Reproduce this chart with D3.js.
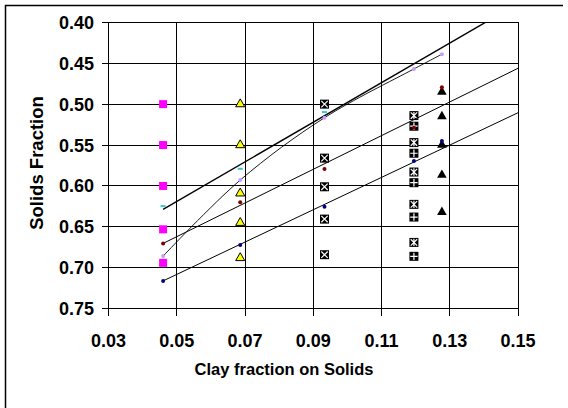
<!DOCTYPE html>
<html>
<head>
<meta charset="utf-8">
<script src="https://cdn.jsdelivr.net/npm/d3@7"></script>
<style>
  body { margin: 0; background: #fff; }
  text { font-family: "Liberation Sans", Arial, sans-serif; font-weight: bold; fill: #000; }
</style>
</head>
<body>
<svg width="568" height="408"></svg>
<script>
// axis ticks
var xTicks = [0.03, 0.05, 0.07, 0.09, 0.11, 0.13, 0.15];
var yTicks = [0.40, 0.45, 0.50, 0.55, 0.60, 0.65, 0.70, 0.75];

// big marker columns
var magentaX = 0.046, magentaY = [0.50, 0.55, 0.60, 0.653, 0.694];
var yellowX = 0.0686, yellowY = [0.50, 0.55, 0.609, 0.645, 0.688];
var crossX = 0.0933, crossY = [0.50, 0.566, 0.601, 0.6405, 0.684];
var starX = 0.1195, starY = [0.514, 0.547, 0.583, 0.6225, 0.669];
var plusX = 0.1195, plusY = [0.527, 0.560, 0.596, 0.638, 0.686];
var blackTriX = 0.1277, blackTriY = [0.485, 0.515, 0.55, 0.5867, 0.632];

// small dot series
var dotX = [0.046, 0.0686, 0.0933, 0.1195, 0.1277];
var cyanY = [0.6246, 0.579, 0.5097];
var lavenderY = [0.6857, 0.5928, 0.5166, 0.457, 0.439];
var redY = [0.6702, 0.620, 0.5794, 0.529, 0.4795];
var navyY = [0.716, 0.6722, 0.6254, 0.5696, 0.545];

// linear trend lines [x0, y0, x1, y1]
var trendCyan = [0.046, 0.6286, 0.15, 0.377];
var trendRed = [0.046, 0.6702, 0.15, 0.4562];
var trendNavy = [0.046, 0.716, 0.15, 0.5105];

var svg = d3.select("svg");
var x = d3.scaleLinear().domain([0.03, 0.15]).range([108.5, 518]);
var y = d3.scaleLinear().domain([0.40, 0.75]).range([22.3, 308.7]);

// chart frame (top + left visible)
svg.append("path")
    .attr("d", "M5.5,408 V5.5 H563")
    .attr("fill", "none")
    .attr("stroke", "#000")
    .attr("stroke-width", 1.5);

svg.append("defs").append("clipPath").attr("id", "plot")
    .append("rect")
    .attr("x", x(0.03)).attr("y", y(0.40))
    .attr("width", x(0.15) - x(0.03)).attr("height", y(0.75) - y(0.40));

// gridlines
var grid = svg.append("g").attr("shape-rendering", "crispEdges").attr("stroke", "#000");
grid.selectAll(".gy").data(yTicks).enter().append("line")
    .attr("x1", x(0.03) - 7).attr("x2", x(0.15))
    .attr("y1", function (d) { return y(d); })
    .attr("y2", function (d) { return y(d); });
grid.selectAll(".gx").data(xTicks).enter().append("line")
    .attr("y1", y(0.40)).attr("y2", y(0.75) + 7)
    .attr("x1", function (d) { return x(d); })
    .attr("x2", function (d) { return x(d); });

// tick labels
svg.selectAll(".yl").data(yTicks).enter().append("text")
    .attr("x", 94)
    .attr("y", function (d) { return y(d) + 6.5; })
    .attr("text-anchor", "end")
    .style("font-size", "18px")
    .text(function (d) { return d3.format(".2f")(d); });
svg.selectAll(".xl").data(xTicks).enter().append("text")
    .attr("x", function (d) { return x(d); })
    .attr("y", 347)
    .attr("text-anchor", "middle")
    .style("font-size", "18px")
    .text(function (d) { return d3.format(".2f")(d); });

// axis titles
svg.append("text")
    .attr("x", 284).attr("y", 375)
    .attr("text-anchor", "middle")
    .style("font-size", "16.5px")
    .text("Clay fraction on Solids");
svg.append("text")
    .attr("transform", "translate(43,163) rotate(-90)")
    .attr("text-anchor", "middle")
    .style("font-size", "18.5px")
    .text("Solids Fraction");

var marks = svg.append("g");

// magenta squares
marks.selectAll(".mag").data(magentaY).enter().append("rect")
    .attr("x", x(magentaX) - 4).attr("y", function (d) { return y(d) - 4; })
    .attr("width", 8).attr("height", 8)
    .attr("fill", "#ff00ff");

// yellow triangles
var tri = d3.symbol().type(d3.symbolTriangle).size(36);
marks.selectAll(".yel").data(yellowY).enter().append("path")
    .attr("d", tri)
    .attr("transform", function (d) { return "translate(" + x(yellowX) + "," + y(d) + ")"; })
    .attr("fill", "#ffff00").attr("stroke", "#000").attr("stroke-width", 1);

// black squares with white X / star / plus
function boxMarker(sel, cx, cy, kind) {
    var g = sel.append("g").attr("transform", "translate(" + cx + "," + cy + ")");
    g.append("rect").attr("x", -4.5).attr("y", -4.5).attr("width", 9).attr("height", 9).attr("fill", "#000");
    var s = 3.2;
    var d = "";
    if (kind === "x" || kind === "star") d += "M" + (-s) + "," + (-s) + "L" + s + "," + s + "M" + (-s) + "," + s + "L" + s + "," + (-s);
    if (kind === "plus" || kind === "star") d += "M0," + (-s - 0.5) + "V" + (s + 0.5);
    if (kind === "plus") d += "M" + (-s - 0.5) + ",0H" + (s + 0.5);
    g.append("path").attr("d", d).attr("stroke", "#fff").attr("stroke-width", 1.2).attr("fill", "none");
}
crossY.forEach(function (v) { boxMarker(marks, x(crossX), y(v), "x"); });
starY.forEach(function (v) { boxMarker(marks, x(starX), y(v), "star"); });
plusY.forEach(function (v) { boxMarker(marks, x(plusX), y(v), "plus"); });

// black triangles
marks.selectAll(".btri").data(blackTriY).enter().append("path")
    .attr("d", d3.symbol().type(d3.symbolTriangle).size(40))
    .attr("transform", function (d) { return "translate(" + x(blackTriX) + "," + y(d) + ")"; })
    .attr("fill", "#000");

// trend lines
var lines = svg.append("g").attr("clip-path", "url(#plot)").attr("fill", "none").attr("stroke", "#000");
[trendCyan, trendRed, trendNavy].forEach(function (t, i) {
    lines.append("line")
        .attr("x1", x(t[0])).attr("y1", y(t[1]))
        .attr("x2", x(t[2])).attr("y2", y(t[3]))
        .attr("stroke-width", i === 0 ? 1.4 : 1);
});
// smoothed lavender line
lines.append("path")
    .datum(lavenderY)
    .attr("stroke-width", 0.9)
    .attr("d", d3.line()
        .x(function (d, i) { return x(dotX[i]); })
        .y(function (d) { return y(d); })
        .curve(d3.curveCatmullRom.alpha(0.5)));

// small dots
var dots = svg.append("g");
dots.selectAll(".cy").data(cyanY).enter().append("rect")
    .attr("x", function (d, i) { return x(dotX[i]) - 2.5; })
    .attr("y", function (d) { return y(d) - 1; })
    .attr("width", 5).attr("height", 2)
    .attr("fill", "#33cccc");
function dotSeries(vals, color) {
    dots.selectAll(null).data(vals).enter().append("circle")
        .attr("cx", function (d, i) { return x(dotX[i]); })
        .attr("cy", function (d) { return y(d); })
        .attr("r", 2)
        .attr("fill", color);
}
dotSeries(lavenderY, "#cc99ff");
dotSeries(redY, "#800000");
dotSeries(navyY, "#000080");
</script>
</body>
</html>
